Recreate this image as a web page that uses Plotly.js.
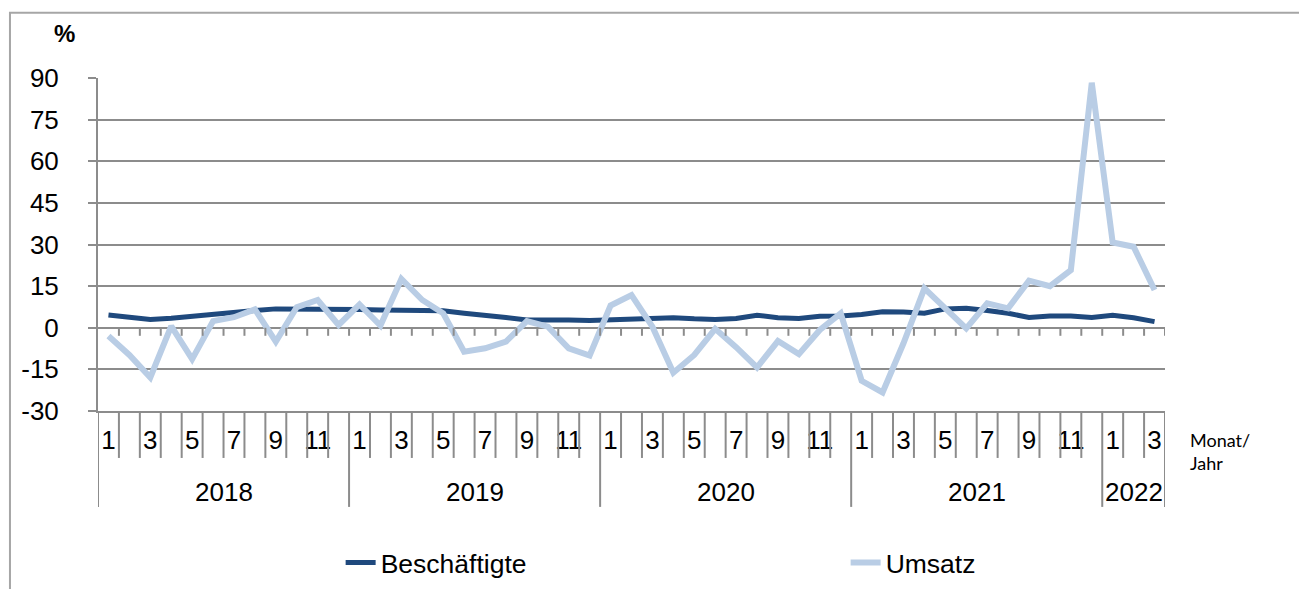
<!DOCTYPE html>
<html>
<head>
<meta charset="utf-8">
<script src="https://cdn.plot.ly/plotly-3.0.1.min.js"></script>
<style>html,body{margin:0;padding:0;background:#fff;}#chart{width:1299px;height:589px;}</style>
</head>
<body>
<div id="chart"></div>
<script>
// Month numbers (01/2018 .. 03/2022)
const months = [1,2,3,4,5,6,7,8,9,10,11,12,
                1,2,3,4,5,6,7,8,9,10,11,12,
                1,2,3,4,5,6,7,8,9,10,11,12,
                1,2,3,4,5,6,7,8,9,10,11,12,
                1,2,3];
const years = [2018,2018,2018,2018,2018,2018,2018,2018,2018,2018,2018,2018,
               2019,2019,2019,2019,2019,2019,2019,2019,2019,2019,2019,2019,
               2020,2020,2020,2020,2020,2020,2020,2020,2020,2020,2020,2020,
               2021,2021,2021,2021,2021,2021,2021,2021,2021,2021,2021,2021,
               2022,2022,2022];
// Veränderung gegenüber Vorjahresmonat in %
const beschaeftigte = [4.6,3.7,3.0,3.4,4.2,4.6,5.4,6.2,6.8,6.8,6.9,6.8,
                       6.6,6.4,6.4,6.0,6.1,5.2,4.6,3.7,2.8,3.0,2.8,2.6,
                       2.8,2.9,3.3,3.6,3.2,3.0,3.3,4.5,3.6,3.3,4.1,4.2,
                       4.8,5.8,5.7,5.2,6.8,7.0,6.2,5.2,3.7,4.2,4.2,3.7,
                       4.5,3.6,2.2];
const umsatz = [-3.0,-9.8,-17.9,0.6,-11.3,2.4,3.8,6.6,-5.0,7.4,10.0,1.0,
                8.4,0.8,17.6,10.0,5.2,-8.6,-7.4,-5.0,2.4,0.4,-7.4,-10.0,
                8.0,11.8,0.4,-16.2,-9.8,-0.4,-7.0,-14.3,-4.8,-9.5,-0.8,5.2,
                -19.1,-23.3,-5.6,14.2,7.0,-0.2,8.8,7.0,17.0,15.0,20.8,88.3,
                30.7,29.2,13.6];
const seriesNames = ['Beschäftigte','Umsatz'];
const yTickVals = [-30,-15,0,15,30,45,60,75,90];
const yTickText = ['-30','-15','0','15','30','45','60','75','90'];

const idx = months.map((m,i)=>i);
const monthText = months.map(m => (m % 2 === 1 ? String(m) : ''));

const GRID = '#8c8c8c';
const FONT = 'Liberation Sans, Arial, sans-serif';

// year groups
const groups = [];
years.forEach((y,i)=>{
  if (!groups.length || groups[groups.length-1].year !== y) groups.push({year:y, start:i, end:i});
  else groups[groups.length-1].end = i;
});

const shapes = [];
// outer frame
shapes.push({type:'rect', xref:'paper', yref:'paper', x0:-0.0825, x1:1.3, y0:-0.7, y1:1.196,
             line:{color:'#a6a6a6', width:2}, fillcolor:'rgba(0,0,0,0)', layer:'below'});
// short ticks at the zero line and month separators below the axis
idx.forEach(i=>{
  const b = i + 0.5;
  shapes.push({type:'line', xref:'x', yref:'y', x0:b, x1:b, y0:0, y1:-2.9,
               line:{color:GRID, width:2}});
  const isYearEnd = (i === years.length-1) || years[i+1] !== years[i];
  if (!isYearEnd) {
    shapes.push({type:'line', xref:'x', yref:'paper', x0:b, x1:b, y0:0, y1:-0.141,
                 line:{color:GRID, width:2}});
  }
});
// year separators
const yearBounds = [-0.5].concat(groups.map(g=>g.end+0.5));
yearBounds.forEach(b=>{
  shapes.push({type:'line', xref:'x', yref:'paper', x0:b, x1:b, y0:0, y1:-0.288,
               line:{color:GRID, width:2}});
});

const annotations = groups.map(g=>({
  xref:'x', yref:'paper', x:(g.start+g.end)/2, y:-0.243, text:String(g.year),
  showarrow:false, xanchor:'center', yanchor:'middle', font:{family:FONT, size:26, color:'#000'}
}));
annotations.push({xref:'paper', yref:'paper', x:-0.031, y:1.135, text:'<b>%</b>', showarrow:false,
  xanchor:'center', yanchor:'middle', font:{family:FONT, size:24, color:'#000'}});
annotations.push({xref:'paper', yref:'paper', x:1.022, y:-0.123, text:'Monat/<br>Jahr', showarrow:false,
  xanchor:'left', yanchor:'middle', align:'left', font:{family:'Lato, Carlito, sans-serif', size:18, color:'#000'}});

const traces = [
  {type:'scatter', mode:'lines', name:seriesNames[0], x:idx, y:beschaeftigte,
   line:{color:'#1F497D', width:5}},
  {type:'scatter', mode:'lines', name:seriesNames[1], x:idx, y:umsatz,
   line:{color:'#B9CDE5', width:6}}
];

const layout = {
  width:1299, height:589,
  margin:{l:98, r:134, t:78, b:178, autoexpand:false},
  paper_bgcolor:'#fff', plot_bgcolor:'#fff',
  font:{family:FONT, size:25, color:'#000'},
  showlegend:true,
  legend:{orientation:'h', x:0.2274, xanchor:'left', y:-0.456, yanchor:'middle',
          entrywidth:460, entrywidthmode:'pixels', font:{family:FONT, size:26.5, color:'#000'},
          bgcolor:'rgba(0,0,0,0)'},
  xaxis:{range:[-0.5,50.5], tickmode:'array', tickvals:idx, ticktext:monthText, ticks:'',
         showgrid:false, zeroline:false, showline:true, linecolor:GRID, linewidth:2,
         tickfont:{family:FONT, size:26, color:'#000'}, ticklabelstandoff:5, fixedrange:true},
  yaxis:{range:[-30,90], tickmode:'array', tickvals:yTickVals, ticktext:yTickText,
         showgrid:true, gridcolor:GRID, gridwidth:2,
         zeroline:false, showline:true, linecolor:GRID, linewidth:2,
         ticks:'outside', ticklen:8, tickwidth:2, tickcolor:GRID,
         tickfont:{family:FONT, size:26, color:'#000'}, ticklabelstandoff:24, fixedrange:true},
  shapes:shapes,
  annotations:annotations
};

Plotly.newPlot('chart', traces, layout, {displayModeBar:false, staticPlot:true});
</script>
</body>
</html>
